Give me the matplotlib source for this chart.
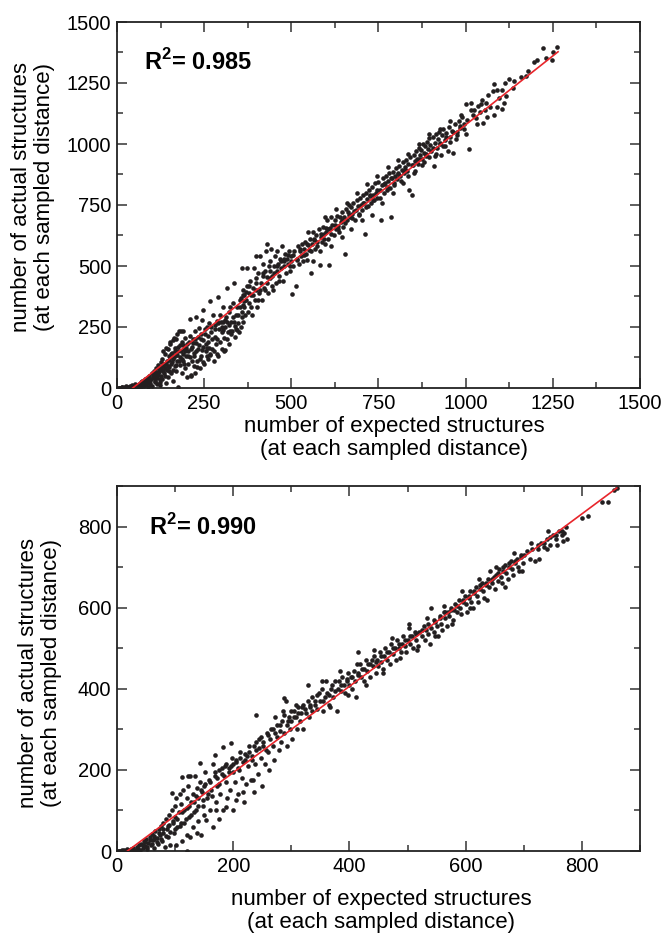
import numpy as np
import matplotlib
matplotlib.use("Agg")
import matplotlib.pyplot as plt
from matplotlib.ticker import MultipleLocator

plt.rcParams["font.family"] = ["Liberation Sans", "DejaVu Sans"]
plt.rcParams["mathtext.fontset"] = "custom"
plt.rcParams["mathtext.rm"] = "Liberation Sans"
plt.rcParams["mathtext.bf"] = "Liberation Sans:bold"

# top panel: (expected, actual) pairs
top_points = [
    (2, 0), (5, 1), (8, 0), (10, 2), (12, 0), (15, 3), (18, 1), (20, 0), (22, 4), (25, 2),
    (28, 0), (30, 5), (32, 1), (35, 3), (38, 0), (40, 6), (42, 2), (45, 0), (48, 8), (50, 3),
    (14, 6), (26, 8), (36, 10), (44, 12), (52, 15), (55, 0), (58, 5), (60, 10), (62, 18), (65, 2),
    (68, 25), (70, 12), (72, 30), (75, 20), (78, 8), (80, 35), (82, 15), (85, 42), (88, 28), (90, 5),
    (92, 50), (95, 22), (98, 38), (100, 60), (100, 10), (103, 45), (105, 70), (108, 30), (110, 55), (112, 80),
    (115, 15), (115, 40), (118, 95), (120, 65), (122, 25), (125, 105), (125, 50), (128, 75), (130, 120), (130, 35),
    (133, 90), (135, 60), (138, 140), (140, 100), (140, 20), (142, 75), (145, 160), (145, 45), (148, 115), (150, 130),
    (150, 85), (152, 180), (155, 60), (155, 100), (158, 145), (160, 195), (160, 120), (162, 30), (165, 90), (165, 165),
    (168, 135), (170, 200), (170, 70), (172, 110), (175, 150), (175, 5), (178, 235), (180, 175), (180, 95), (182, 125),
    (185, 60), (185, 190), (188, 140), (190, 235), (190, 110), (192, 160), (195, 80), (195, 205), (198, 130), (200, 180),
    (200, 45), (203, 100), (205, 150), (208, 215), (210, 125), (212, 55), (215, 170), (218, 200), (220, 90), (222, 145),
    (225, 235), (225, 60), (228, 185), (230, 110), (232, 160), (235, 245), (238, 80), (240, 200), (242, 130), (245, 280),
    (248, 170), (250, 100), (252, 220), (255, 150), (258, 250), (260, 120), (262, 190), (265, 265), (268, 140), (270, 230),
    (272, 160), (275, 300), (278, 110), (280, 210), (282, 260), (285, 180), (288, 275), (290, 130), (292, 240), (295, 300),
    (298, 270), (300, 160), (300, 230), (303, 330), (305, 270), (308, 150), (310, 250), (312, 290), (315, 270), (318, 230),
    (320, 310), (322, 180), (325, 330), (328, 270), (330, 235), (332, 350), (335, 270), (338, 210), (340, 300), (342, 240),
    (345, 330), (348, 265), (350, 230), (352, 360), (355, 250), (358, 290), (360, 270), (362, 340), (365, 380), (368, 300),
    (226, 291), (247, 320), (267, 357), (290, 373), (315, 410), (335, 430), (358, 492), (373, 492), (209, 283), (229, 86),
    (248, 107), (267, 135), (286, 139), (310, 156), (258, 164), (304, 238), (323, 234), (344, 238), (213, 51), (123, 12),
    (55, 8), (58, 14), (62, 4), (66, 16), (70, 6), (74, 22), (78, 14), (82, 30), (86, 20), (90, 40),
    (94, 32), (96, 12), (102, 52), (106, 40), (110, 25), (113, 65), (117, 52), (121, 78), (124, 38), (127, 88),
    (131, 68), (134, 100), (137, 48), (139, 82), (143, 110), (146, 92), (149, 70), (153, 125), (156, 140), (159, 108),
    (161, 75), (164, 128), (167, 150), (169, 95), (173, 135), (176, 170), (179, 110), (183, 150), (186, 120), (189, 175),
    (193, 100), (196, 150), (199, 165), (204, 130), (207, 190), (211, 160), (214, 110), (217, 185), (221, 130), (224, 200),
    (227, 150), (231, 210), (234, 175), (237, 120), (241, 220), (244, 155), (247, 195), (251, 240), (254, 180), (257, 130),
    (261, 215), (264, 165), (269, 250), (273, 200), (277, 150), (281, 240), (286, 200), (291, 265), (296, 190), (301, 250),
    (306, 205), (311, 280), (316, 200), (321, 260), (327, 220), (333, 290), (339, 255), (346, 300), (353, 330), (359, 310),
    (364, 355), (132, 150), (141, 165), (151, 190), (163, 205), (173, 220), (183, 232),
    (355, 370), (360, 400), (365, 330), (370, 360), (372, 420), (375, 310), (378, 390), (380, 350), (382, 440), (385, 380),
    (388, 300), (390, 410), (392, 490), (395, 360), (398, 430), (400, 400), (400, 540), (402, 330), (405, 470), (408, 390),
    (410, 540), (412, 430), (415, 360), (418, 460), (420, 510), (422, 410), (425, 480), (428, 560), (430, 430), (430, 590),
    (432, 390), (435, 500), (438, 450), (440, 520), (442, 570), (445, 460), (448, 400), (450, 500), (452, 540), (455, 430),
    (458, 480), (460, 560), (462, 510), (465, 460), (468, 530), (470, 490), (472, 580), (475, 440), (478, 520), (480, 500),
    (482, 550), (485, 470), (488, 530), (490, 510), (492, 560), (495, 480), (498, 520),
    (360, 380), (370, 395), (380, 420), (390, 380), (400, 450), (410, 400), (420, 470), (430, 455), (440, 480), (450, 470),
    (460, 500), (470, 520), (480, 530), (490, 545), (495, 500), (385, 330), (405, 360), (425, 400), (445, 420), (465, 440),
    (500, 540), (503, 385), (506, 500), (509, 560), (512, 420), (515, 530), (518, 580), (521, 510), (524, 560), (527, 540),
    (530, 590), (533, 520), (536, 570), (539, 600), (542, 550), (545, 525), (548, 585), (551, 565), (554, 610), (557, 470),
    (560, 590), (563, 640), (566, 605), (569, 570), (572, 625), (575, 600), (578, 650), (581, 505), (584, 620), (587, 600),
    (590, 660), (593, 630), (596, 590), (599, 655),
    (505, 545), (515, 525), (525, 570), (535, 545), (545, 590), (555, 560), (565, 610), (575, 580), (585, 630), (595, 610),
    (605, 650), (615, 630), (625, 670), (635, 650), (645, 690), (655, 675), (665, 710), (675, 695), (685, 730), (695, 715),
    (548, 640), (562, 520), (583, 560), (597, 700), (613, 580), (628, 735), (644, 620), (659, 760), (672, 650), (688, 800),
    (703, 690), (718, 835), (731, 710), (746, 870), (761, 760), (776, 905), (791, 800), (806, 935), (821, 840), (836, 960),
    (851, 880), (866, 1000), (881, 925), (896, 1040), (911, 950), (926, 1060), (941, 990), (956, 1095), (971, 1020), (986, 1120),
    (1001, 1040), (1016, 1140), (1032, 1080), (1048, 1180), (1062, 1110), (1090, 1220), (1110, 1170), (1135, 1230), (1180, 1300), (1205, 1345),
    (600, 640), (603, 690), (606, 610), (609, 505), (612, 655), (615, 700), (618, 670), (621, 625), (624, 690), (627, 650),
    (630, 705), (633, 665), (636, 640), (639, 700), (642, 680), (645, 720), (648, 660), (651, 700), (654, 550), (657, 735),
    (660, 690), (663, 720), (666, 750), (669, 700), (672, 740), (675, 715), (678, 760), (681, 725), (684, 690), (687, 770),
    (690, 745), (693, 710), (696, 780), (699, 750), (702, 730), (705, 790), (708, 760), (711, 630), (714, 800), (717, 775),
    (720, 745), (723, 810), (726, 785), (729, 760), (732, 825), (735, 790), (738, 770), (741, 840), (744, 800), (747, 780),
    (750, 845), (753, 810), (756, 690), (759, 830), (762, 860), (765, 800), (768, 840), (771, 870), (774, 825), (777, 850),
    (780, 880), (783, 820), (786, 700), (789, 860), (792, 885), (795, 840), (798, 870), (801, 900), (804, 855), (807, 880),
    (810, 910), (813, 870), (816, 895), (819, 925), (822, 880), (825, 905), (828, 935), (831, 890), (834, 920), (838, 810),
    (841, 945), (845, 790), (848, 915), (851, 955), (854, 930), (857, 970), (860, 940), (863, 920), (866, 985), (869, 955),
    (872, 975), (875, 940), (878, 1000), (881, 965), (884, 990), (887, 950), (890, 1010), (893, 980), (896, 1025), (899, 995),
    (902, 970), (905, 1030), (908, 910), (911, 1005), (914, 1040), (917, 985), (920, 1020), (923, 1050), (926, 1000), (930, 955),
    (933, 1035), (936, 1060), (940, 1015), (944, 1045), (948, 970), (952, 1070), (956, 1030), (960, 1055), (965, 965), (970, 1080),
    (975, 1050), (980, 1095), (985, 1065), (990, 1110), (995, 1080), (1000, 1165), (1005, 1100), (1010, 978), (1014, 1170), (1020, 1120),
    (705, 760), (715, 740), (725, 790), (735, 770), (745, 810), (755, 780), (765, 835), (775, 810), (785, 860), (795, 830),
    (805, 875), (815, 850), (825, 895), (835, 870), (845, 915), (855, 890), (865, 940), (875, 915), (885, 960), (895, 945),
    (905, 985), (915, 960), (925, 1005), (935, 990), (945, 1030), (955, 1010), (965, 1050), (975, 1035), (985, 1075), (995, 1060),
    (1025, 1140), (1030, 1105), (1035, 1155), (1040, 1130), (1045, 1165), (1050, 1085), (1055, 1140), (1058, 1167), (1065, 1200), (1070, 1150),
    (1077, 1218), (1081, 1120), (1082, 1246), (1089, 1150), (1095, 1190), (1103, 1221), (1105, 1142), (1113, 1251), (1116, 1197), (1124, 1266),
    (1140, 1260), (1158, 1273), (1173, 1280), (1197, 1337), (1221, 1392), (1229, 1351), (1249, 1344), (1251, 1378), (1261, 1399),
]
top_fit_x = [45, 1265]
top_fit_y = [0, 1378]
top_r2 = "0.985"

# bottom panel
bottom_points = [
    (2, 0), (4, 1), (6, 0), (8, 2), (10, 0), (12, 3), (14, 1), (16, 0), (18, 4), (20, 2),
    (22, 0), (24, 6), (26, 1), (28, 8), (30, 3), (32, 0), (34, 10), (36, 5), (38, 14), (40, 2),
    (42, 18), (44, 8), (46, 25), (48, 12), (50, 30), (52, 4), (54, 20), (56, 35), (58, 15), (60, 42),
    (62, 28), (64, 8), (66, 50), (68, 32), (70, 18), (72, 55), (74, 40), (76, 62), (78, 25), (80, 70),
    (80, 45), (82, 10), (84, 80), (86, 55), (88, 35), (90, 90), (90, 65), (92, 15), (94, 100), (96, 75),
    (98, 45), (100, 110), (100, 85), (102, 130), (104, 60), (106, 95), (108, 140), (110, 70), (110, 115), (112, 25),
    (114, 150), (116, 100), (118, 80), (120, 130), (120, 40), (122, 160), (124, 110), (126, 185), (128, 90), (130, 140),
    (130, 60), (132, 120), (134, 185), (136, 100), (138, 155), (140, 75), (140, 130), (142, 170), (144, 40), (146, 145),
    (148, 110), (150, 160), (150, 90), (152, 195), (155, 130), (158, 175), (160, 100), (162, 150), (165, 215), (165, 60),
    (168, 185), (170, 120), (172, 160), (175, 200), (175, 80), (178, 140), (180, 190), (182, 100), (185, 210), (188, 170),
    (190, 130), (192, 205), (195, 150), (198, 230), (200, 195), (200, 100), (203, 170), (205, 220), (208, 140), (210, 200),
    (212, 245), (215, 180), (218, 120), (220, 225), (222, 165), (225, 210), (228, 260), (230, 175), (232, 235), (235, 145),
    (238, 215), (240, 250), (242, 190), (245, 275), (248, 230), (250, 160), (252, 260), (255, 215), (258, 290), (260, 245),
    (262, 200), (265, 300), (268, 260), (270, 225), (272, 330), (275, 280), (278, 250), (280, 310), (282, 270), (285, 345),
    (288, 290), (290, 370), (292, 260), (295, 320), (298, 300), (300, 345), (302, 275), (305, 330), (308, 360), (310, 300),
    (312, 340), (315, 320), (318, 355), (320, 300), (325, 340), (328, 410), (330, 330), (332, 360), (335, 345), (340, 370),
    (102, 15), (125, 35), (137, 44), (154, 76), (171, 101), (188, 109), (205, 126), (217, 146), (234, 175), (94, 143),
    (111, 183), (122, 185), (142, 216), (168, 236), (182, 257), (197, 267), (288, 377), (240, 335), (120, 0), (64, 30),
    (44, 14), (48, 22), (52, 10), (56, 28), (60, 18), (64, 38), (68, 22), (72, 44), (76, 30), (80, 55),
    (84, 38), (88, 62), (92, 48), (96, 70), (100, 55), (104, 80), (108, 62), (112, 95), (116, 70), (120, 105),
    (124, 85), (128, 120), (132, 95), (136, 135), (140, 110), (144, 150), (148, 125), (152, 165), (156, 140), (160, 170),
    (164, 135), (168, 195), (172, 180), (176, 165), (180, 205), (184, 185), (188, 215), (192, 195), (196, 210), (200, 215),
    (204, 225), (208, 205), (212, 230), (216, 220), (220, 240), (224, 235), (228, 245), (232, 225), (236, 260), (240, 270),
    (244, 255), (248, 280), (252, 270), (256, 250), (260, 285), (264, 275), (268, 300), (272, 290), (276, 310), (280, 295),
    (284, 320), (288, 335), (292, 310), (296, 330), (300, 320), (304, 345), (308, 330), (312, 355), (316, 340), (320, 360),
    (324, 350), (328, 370), (332, 355), (336, 380), (340, 360), (344, 385),
    (345, 350), (348, 390), (350, 370), (352, 400), (355, 345), (358, 380), (360, 420), (362, 390), (365, 360), (368, 400),
    (370, 410), (372, 380), (375, 420), (378, 345), (380, 400), (382, 420), (385, 395), (388, 430), (390, 410), (392, 390),
    (395, 425), (398, 440), (400, 410), (402, 430), (405, 400), (408, 445), (410, 420), (412, 380), (415, 440), (418, 460),
    (420, 430), (422, 450), (425, 420), (428, 470), (430, 445), (432, 460), (435, 430), (438, 470), (440, 455), (442, 480),
    (445, 440), (448, 470), (450, 455), (452, 490), (455, 465), (458, 450), (460, 480), (462, 500), (465, 470), (468, 490),
    (470, 460), (472, 510), (475, 485), (478, 500), (480, 470), (482, 520), (485, 500), (488, 490), (490, 510), (492, 530),
    (495, 505), (498, 490), (500, 520), (502, 550), (505, 510), (508, 530), (510, 500), (512, 540), (515, 520), (518, 505),
    (520, 540), (525, 530), (528, 555), (530, 520), (532, 545), (535, 535), (538, 510), (540, 550), (545, 540), (548, 565),
    (550, 555), (552, 530), (555, 575), (558, 560), (560, 545), (562, 590), (565, 575), (568, 555), (570, 590), (572, 580),
    (575, 600), (578, 570), (580, 595), (582, 610), (585, 590), (588, 620), (590, 600), (592, 585), (595, 615), (598, 630),
    (600, 610), (602, 590), (605, 625), (608, 640), (610, 615), (612, 600), (615, 635), (618, 650), (620, 630), (622, 615),
    (625, 645), (628, 660), (630, 640), (632, 625), (635, 655), (638, 670), (640, 650), (642, 690), (645, 660), (648, 675),
    (650, 645), (652, 680), (655, 665), (658, 695), (660, 675), (662, 660), (665, 690), (668, 705), (670, 685), (672, 670),
    (675, 700), (678, 715), (680, 695), (682, 680), (685, 710), (688, 720), (690, 700), (692, 690), (695, 725), (698, 710),
    (355, 370), (365, 385), (375, 395), (385, 410), (395, 420), (405, 430), (415, 435), (425, 450), (435, 460), (445, 465),
    (455, 480), (465, 490), (475, 500), (485, 510), (495, 520), (505, 530), (515, 535), (525, 545), (535, 560), (545, 570),
    (555, 580), (565, 590), (575, 595), (585, 605), (595, 620), (605, 630), (615, 640), (625, 655), (635, 660), (645, 670),
    (655, 685), (665, 700), (675, 710), (685, 715), (695, 730), (705, 740), (715, 745), (725, 755), (735, 760), (745, 775),
    (755, 780), (765, 790), (770, 785), (740, 745), (710, 720),
    (352, 420), (367, 355), (383, 445), (397, 385), (413, 460), (428, 410), (443, 495), (457, 440), (473, 525), (487, 475),
    (503, 560), (517, 495), (533, 575), (547, 530), (563, 605), (577, 560), (593, 640), (607, 600), (623, 670), (637, 620),
    (653, 700), (667, 650), (683, 735), (697, 690), (713, 760), (727, 720), (742, 790), (757, 755), (772, 800), (775, 770),
    (700, 730), (720, 715), (725, 745), (730, 760), (735, 750), (740, 770), (745, 755), (750, 780), (755, 770), (760, 790),
    (765, 780), (768, 765), (800, 820), (810, 825), (835, 860), (845, 860), (855, 890), (860, 895), (414, 490), (541, 598),
]
bottom_fit_x = [18, 860]
bottom_fit_y = [0, 895]
bottom_r2 = "0.990"

dot_color = "#231f20"
line_color = "#e8252b"


def style_axes(ax, lim, major, minor):
    ax.set_xlim(0, lim)
    ax.set_ylim(0, lim)
    ax.xaxis.set_major_locator(MultipleLocator(major))
    ax.xaxis.set_minor_locator(MultipleLocator(minor))
    ax.yaxis.set_major_locator(MultipleLocator(major))
    ax.yaxis.set_minor_locator(MultipleLocator(minor))
    ax.tick_params(which="both", direction="in", top=True, right=True,
                   width=1.1, color="#333333", labelsize=14.5, pad=4)
    ax.tick_params(which="major", length=7)
    ax.tick_params(which="minor", length=4)
    for s in ax.spines.values():
        s.set_linewidth(1.3)
        s.set_color("#222222")


def draw_panel(ax, points, fit_x, fit_y, r2, r2_pos):
    pts = np.array(points, dtype=float)
    ax.scatter(pts[:, 0], pts[:, 1], s=11, color=dot_color, linewidths=0, zorder=2)
    ax.plot(fit_x, fit_y, color=line_color, lw=1.2, zorder=3)
    ax.text(r2_pos[0], r2_pos[1], "R$^{\\mathbf{2}}$= " + r2, transform=ax.transAxes,
            fontsize=17, fontweight="bold", va="center", ha="left")


fig = plt.figure(figsize=(6.61, 9.38), dpi=100)
W, H = 661.0, 938.0

ax1 = fig.add_axes([117 / W, 1 - 388 / H, 523 / W, 366 / H])
draw_panel(ax1, top_points, top_fit_x, top_fit_y, top_r2, (0.052, 0.89))
style_axes(ax1, 1500, 250, 125)

ax2 = fig.add_axes([117 / W, 1 - 851 / H, 523 / W, 365 / H])
draw_panel(ax2, bottom_points, bottom_fit_x, bottom_fit_y, bottom_r2, (0.061, 0.888))
style_axes(ax2, 900, 200, 100)

xlab = "number of expected structures\n(at each sampled distance)"
ylab = "number of actual structures\n(at each sampled distance)"
fig.text(394 / W, 1 - 438 / H, xlab, ha="center", va="center", fontsize=16,
         linespacing=1.15)
fig.text(381 / W, 1 - 911 / H, xlab, ha="center", va="center", fontsize=16,
         linespacing=1.15)
fig.text(33 / W, 1 - 197 / H, ylab, ha="center", va="center", fontsize=16,
         rotation=90, linespacing=1.15)
fig.text(40 / W, 1 - 673 / H, ylab, ha="center", va="center", fontsize=16,
         rotation=90, linespacing=1.15)

fig.savefig("out.png", dpi=100)
